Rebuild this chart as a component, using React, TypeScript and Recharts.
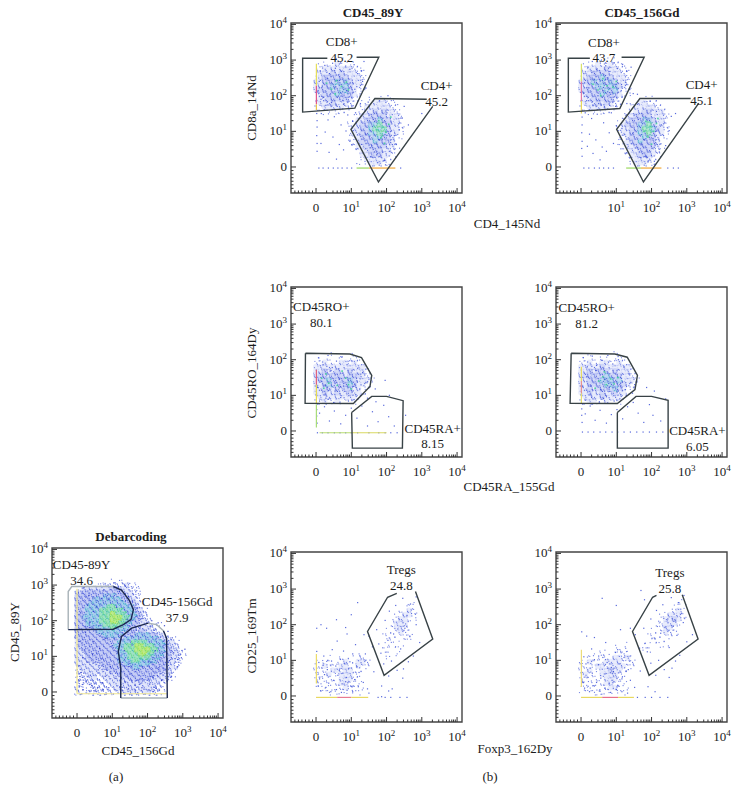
import React from "react";
import { ScatterChart, Scatter, XAxis, YAxis, ReferenceArea, ReferenceDot } from "recharts";

const FONT = "'Liberation Serif', serif";
const INK = "#1c1c1c";
const XDOM = [-71, 414];
const YDOM = [-73, 404];
const MAJOR = [0, 100, 200, 300, 400];
const NEG_MINOR = [-60, -50, -40, -30, -20, -10];
const DEC_MINOR = [30, 48, 60, 70, 78, 85, 90, 95];
const TICKS = [...NEG_MINOR, ...MAJOR, ...[0, 100, 200, 300].flatMap((d) => DEC_MINOR.map((m) => d + m))].sort((a, b) => a - b);

// How each density level of a map cell is stippled
const LEVEL = {
  a: { n: 2, under: null, c1: "#4a5ddb", c2: "#6072e0" },
  b: { n: 4, under: "#e3e7fb", c1: "#3c50d8", c2: "#5569de" },
  c: { n: 6, under: "#c6cef6", c1: "#3346d4", c2: "#4658da" },
  d: { n: 7, under: "#a9cdee", c1: "#3346d4", c2: "#36b0c4" },
  e: { n: 8, under: "#9fe2c4", c1: "#36b8ae", c2: "#58d878" },
  f: { n: 8, under: "#bcea88", c1: "#6cd860", c2: "#a8e040" },
};
const SPECKS = [[-2.4,-1.1],[0.9,-2.6],[2.2,0.7],[-0.8,1.9],[1.6,-0.9],[-2.9,1.6],[0.2,0.1],[2.8,-2.2],[-1.4,-2.8],[1.1,2.7],[-2.1,0.3],[2.6,2.1],[-0.3,-1.6],[0.7,1.2],[-1.7,2.6],[1.9,-1.8]];

// Density maps: rows run downward from gridTop, columns rightward from x=0.
const gridA = [
  "..........a.a...................",
  "......aaa.aaaab.a...............",
  ".abbbbbbbbccbbba.a..............",
  "bbcccccccccccbbba...............",
  "ccccccccdcdcccbbaa..............",
  "cccccddddddddccbba..............",
  "ccccddddddddddccbba.............",
  "cccddddddeedddddcba.............",
  "cccddddeeeeeedddcbba............",
  "cccddddeeefeeedddcba............",
  "ccdddddeeefffeeddcbaa...........",
  "cccddddeeeffeeddccbba...........",
  "cccdddddeeeeeddcccbbaa.a........",
  "cccccdddddeddddccbbbbaa.........",
  "ccccccdddddddccccbccbbaa........",
  "ccccccccddddcccccddddccbba......",
  "bcccccccccccccdddddddddcbbaa....",
  "bcccccccccccddddeeeedddddcbba...",
  "bccccccccccdddeeeffeeedddcbba...",
  "bbccccccccccddeeeffffeeddccbba..",
  "bbbcccccccccdddeeeffeedddccbbaa.",
  "bbbcccccccccdddeeeeeedddcccbba..",
  "bbbbcccbccccddddeedddddcccbbaa..",
  "abbbbbbcccccccdddddddcccccbba...",
  "abbbbbbbccccccccddccccccccbba...",
  "aabbbbbbbbcccccccccccccccbba....",
  "aaabbbabbbbbcccccccccccbbbba....",
  "aaaabbaabbbbbbbccccccbbbbba.....",
  "aaaaaaaaabbbbbbbbbcbbbbbaa......",
  "aa.aaaaaaabbbbbbbbbbbbbaa.......",
  "aa..aa.aaaabbabbbabbbbaaa.......",
  "aaaaaaaaaaaaabbbbbabbaaa........",
];
const gridP1 = [
  "....a.a...............",
  ".aaaabaaaa............",
  "aabbbbbbbaaa..........",
  "abbbcbcbbbaa..........",
  "abccccccbbba..........",
  "bbcccdcdcbba..........",
  "bbccdcddcbba..........",
  "bcccccddcbaa..........",
  "abcccdcccba...........",
  "abbcccccba..a..aa.a...",
  "abbbcbbba..aaabbbaaa..",
  "aabbbbbaa..abbbbbbaa..",
  "..aaaaaa..aabbcbcbba..",
  ".........aabbccccbbba.",
  "........aabbcccdccbba.",
  "........aabccddeccbba.",
  "........abbccdedecbba.",
  "........abbccddedcbba.",
  "........aabcccddccbaa.",
  "........aabcccdcccba..",
  "........aabbcccccbba..",
  ".........aabbcccbba...",
  "..........abbcccbba...",
  "..........aabbbbbaa...",
  "..........aaabbbaa....",
];
const gridP2 = [
  "......a.a.............",
  ".aaabaabaaa...........",
  "aabbbbcbbaaa..........",
  "abbccccbbbaa..........",
  "abcccdccbbba..........",
  "bccdcdcdcbba..........",
  "bbccddcddcba..........",
  "bcccccdcdbaa..........",
  "abcccdcccbaa..........",
  "abbcccccba.....a.a....",
  "abbbcbcba...aabbaaa...",
  "aabbbbbaa...abbbbbaa..",
  "..aaaaaa...aabbccbbba.",
  "..........aabccccbbba.",
  ".........aabcccddcbba.",
  ".........abcccddecbba.",
  ".........abbccdeedcba.",
  ".........abbccddecbba.",
  ".........aabcccdccbaa.",
  ".........aabccdcccba..",
  ".........aabbcccccba..",
  "..........aabbcccba...",
  "..........aabbcccba...",
  "...........aabbbbaa...",
  "...........aabbbaa....",
];
const gridP3 = [
  "...a.....a........",
  "aa.a.aa.aaa.......",
  "aabaaabbaba.......",
  "bbbbbbbbbbbba.....",
  "bbcbbcbbcbbba.....",
  "bccbcccbcccbaa....",
  "bccdccccdcbbba....",
  "bbcdcbccdcbbaa....",
  "bbccbcbccbbaa.....",
  "bbcbbcbbcbba......",
  "abbbbbbbbba.......",
  "aabaabaaaa........",
];
const gridP4 = [
  "..a.....aa........",
  "aa.aa.a.aaa.......",
  "aabaabbaaba.......",
  "bbbbbcbbbbbba.....",
  "bbcbcccbcbbba.....",
  "bcccccdcccbbaa....",
  "bbcccdddcdbbba....",
  "bbccccddcccbaa....",
  "bbcbccccdcbaa.....",
  "bbcbbcbbcbba......",
  "abbbbcbbbba.......",
  "aabbaabaaa........",
];
const gridP5 = [
  ".......................a..",
  ".....................aa...",
  "....................aaba..",
  "...................aabba..",
  "..................aabbaa..",
  "..................abbba...",
  ".................aabbaa...",
  ".................aaabaa...",
  "................aaaaa.a...",
  "..................a.aa....",
  "................aaa.a.....",
  "................aa.a......",
  "..........a......a.a......",
  "...a..aaa.aaa...a.........",
  ".aaa.aabaabba.............",
  "aabaaabbaabaa.............",
  "aaaabbabbaaa..............",
  "aaabaabbbaa...............",
  "a.aaaabbbaa...............",
  "aa.aaabbaaa...............",
  "a.aa.aabaa.a..............",
  ".a.a.aaaa.a...............",
];
const gridP6 = [
  ".......................aa.",
  "......................aa..",
  ".....................aaba.",
  "...................aabbba.",
  "...................abbcba.",
  "..................aabbba..",
  ".................aaabba...",
  ".................aaaba.a..",
  "................aaaaaa....",
  ".................a.aa.....",
  "........a..a...aa.a.a.....",
  ".....a...aaa..a.a.........",
  "...a.aa.aaaa..............",
  ".aa.aaaabbaba.............",
  "aabaaabbbbaaa.............",
  "aaaabbabbbbaa.............",
  "aabaabbcbbaa..............",
  "abaaabbbbaa...............",
  "aa.aaabbbaa...............",
  "a.aaaabbaaa...............",
  "aaaa.aabba.a..............",
  "aa.aaaaaa.a...............",
];

// Individually read events (x, y pairs, in hundredths of an axis decade)
const dotsA = [4,280,18,292,33,270,52,296,70,262,88,300,104,306,120,282,136,298,146,268,158,252,172,236,184,206,196,222,178,178,2,170,8,142,21,118,16,96,6,74,28,84,44,106,60,62,38,47,12,55,26,28,4,34,42,18,58,11,72,26,80,44,94,71,108,38,122,15,136,29,150,50,164,19,178,36,190,8,206,22,218,46,232,68,240,32,252,62,262,88,274,110,286,132,270,152,258,170,248,186,230,194,212,200,296,96,306,120,284,70,268,44,10,222,30,244,46,226,62,186,80,150,100,130,118,92,134,116,150,80,64,122,48,142,24,168,90,260,112,238,142,204,6,14,16,6,34,4,52,3,74,7,90,12,108,6,128,4,146,9,166,5,184,12,204,6,224,10,36,196,56,240,74,284,128,256,156,132,202,84,222,116,244,142];
const dotsP1 = [12,270,25,285,38,262,47,291,55,277,63,296,72,268,84,283,96,274,108,287,118,262,128,270,136,296,132,240,141,222,125,205,118,185,105,172,92,168,78,176,60,170,44,181,28,173,14,190,6,214,9,240,18,227,33,248,41,205,52,222,66,243,71,199,88,214,97,236,110,218,22,196,15,150,34,132,52,141,71,118,90,146,104,128,26,98,48,84,66,63,85,101,37,41,58,22,78,48,96,72,14,66,112,152,126,178,148,182,3,130,3,112,2,88,3,66,3,44,2,150,120,110,132,148,141,92,150,170,158,60,166,128,172,34,180,186,188,78,194,18,201,152,208,44,215,121,222,88,228,63,236,104,244,137,197,6,175,12,156,28,8,-3,20,-3,35,-3,49,-3,62,-3,74,-3,88,-3,101,-3,240,-3,250,170,262,118,204,200,300,150];
const hotP1 = [30,235,44,218,58,242,72,226,86,238,92,216,54,205,178,130,190,112,198,98,184,82,206,120,172,104,194,66,212,140];
const dotsP2 = [8,262,20,280,32,296,46,275,58,300,70,284,82,268,94,292,104,276,118,288,130,268,142,280,126,238,138,218,116,196,112,176,98,170,82,182,66,168,50,178,34,172,16,186,7,208,10,236,22,222,38,246,48,200,62,214,76,250,84,204,100,232,114,214,12,152,30,136,46,148,64,124,86,152,100,116,24,92,42,76,60,56,80,96,34,38,54,20,72,44,92,66,18,58,3,140,3,118,2,96,3,72,2,52,3,30,2,160,116,108,136,150,148,96,160,176,170,62,176,132,184,30,196,184,204,80,208,16,214,156,222,42,228,118,234,88,240,60,250,102,256,142,210,8,190,14,170,26,8,-3,22,-3,38,-3,52,-3,64,-3,78,-3,92,-3,246,-3,262,-3,276,-3,268,150,160,204,130,178,148,206];
const hotP2 = [34,232,48,216,62,248,74,228,90,224,100,240,56,200,184,128,196,114,206,100,190,84,214,122,180,100,200,64,218,136];
const dotsP3 = [8,205,20,186,34,212,46,178,58,196,74,208,88,186,102,196,118,176,132,164,146,138,140,104,126,100,108,88,92,84,70,94,50,80,28,92,10,84,4,122,14,150,26,128,40,168,54,112,66,146,78,126,96,158,110,132,124,118,2,60,2,42,3,22,10,50,24,68,38,28,52,56,70,20,84,44,100,64,116,36,130,70,146,92,160,54,176,26,192,72,206,40,222,14,146,14,170,82,208,100,196,142,168,118,254,44,4,-5,18,-5,34,-5,52,-5,68,-5,84,-5,100,-5,118,-5,150,-5,178,-5,196,-5,212,-5,230,-5];
const hotP3 = [16,148,28,160,36,134,60,128,84,148,92,130,100,118,22,120,74,168];
const dotsP4 = [6,206,18,180,32,210,44,184,60,198,76,212,90,188,106,200,122,180,136,160,152,130,146,106,128,100,110,90,94,84,72,96,52,82,30,94,12,86,5,124,16,152,28,126,42,170,56,116,68,144,80,122,98,160,112,134,126,116,2,62,2,44,3,24,12,48,26,70,40,30,54,58,72,22,86,46,102,60,118,34,132,68,148,80,162,50,178,24,194,74,204,44,226,28,240,90,208,112,186,122,4,-3,20,-3,36,-3,54,-3,70,-3,88,-3,104,-3,122,-3,140,-3,158,-3,176,-3,194,-3,214,-3,232,-3];
const hotP4 = [50,140,62,152,72,130,84,146,94,132,40,120,104,150,66,166];
const dotsP5 = [2,190,14,200,30,190,58,214,84,192,100,228,118,262,60,154,88,174,112,144,136,172,140,118,78,126,46,130,22,112,2,125,2,100,2,78,2,60,8,94,20,86,32,74,44,98,56,84,68,104,80,92,92,76,104,118,116,82,128,104,10,48,24,60,36,36,50,44,62,58,74,34,86,52,98,28,110,46,122,66,134,38,146,20,14,14,28,24,42,12,58,18,72,10,88,16,104,12,120,26,6,28,66,72,96,96,76,64,84,40,150,8,176,-4,196,-4,212,-4,238,-4,258,-4,150,168,160,138,172,186,184,120,196,212,204,156,214,98,226,254,232,188,240,132,248,76,258,226,266,168,276,112,284,200,294,150,246,274,268,258,284,278,208,238,220,174,236,214,252,190,178,146,192,90,164,68,206,56,230,72,246,50,262,96,186,28,206,14,186,-2,216,20];
const dotsP6 = [2,180,16,168,38,164,70,150,104,130,140,190,100,254,60,274,170,296,112,186,50,112,30,132,8,110,2,100,2,84,2,66,2,48,14,90,26,78,38,102,50,88,62,108,74,94,86,80,98,122,110,90,122,108,134,74,20,52,32,64,44,38,56,50,68,62,80,36,92,56,104,30,116,48,128,70,140,44,152,24,10,22,24,12,38,28,52,14,68,22,84,10,100,18,116,12,132,8,6,38,76,78,92,68,88,44,160,-4,182,-4,200,-4,224,-4,246,-4,154,172,166,134,178,190,188,124,198,216,210,160,220,100,232,256,238,192,250,136,258,78,264,230,272,170,280,114,290,206,300,152,256,276,276,262,292,282,214,240,226,176,246,216,262,196,182,148,198,92,168,70,212,58,236,74,250,52,268,98,190,26,210,12,316,172,180,270];

// Axis pile-ups along the zero lines: colour, x1, y1, x2, y2
const pilesP1 = [["#e6df5a",1,228,1,290],["#e0568a",1,176,1,228],["#e8c84a",1,160,1,176],["#9ad860",115,-3,150,-3],["#f0a838",150,-3,225,-3]];
const pilesP2 = [["#d8e26a",1,240,1,290],["#e27aa0",1,185,1,240],["#e8d858",1,150,1,185],["#9ad860",128,-3,170,-3],["#f0a838",170,-3,228,-3]];
const pilesP3 = [["#e0607a",1,130,1,172],["#e8dc50",1,78,1,130],["#a8dc78",1,10,1,75],["#b8dc70",10,-5,100,-5],["#d8d860",100,-5,200,-5]];
const pilesP4 = [["#e8dc60",1,140,1,180],["#e89090",1,105,1,140],["#e8e070",1,78,1,105]];
const pilesP5 = [["#ecdc68",1,35,1,118],["#e8d860",0,-4,60,-4],["#e87a90",60,-4,100,-4],["#e8d860",100,-4,148,-4]];
const pilesP6 = [["#ecdc78",1,25,1,130],["#e8d860",0,-4,60,-4],["#e8708a",60,-4,105,-4],["#e8d860",105,-4,150,-4]];
const pilesA = [["#f2e88a",0,-5,0,290],["#f0e690",0,-5,255,-5]];

// Gates: polylines in axis units
const DARK = "#384246";
const GATE_P1 = [[[32,305],[-38,305],[-38,154],[110,165],[178,308],[115,308]],[[314,190],[167,192],[99,106],[177,-42],[331,170]]];
const GATE_P2 = [[[25,305],[-36,305],[-36,154],[110,164],[179,308],[115,308]],[[311,192],[167,192],[101,106],[177,-42],[334,179]]];
const GATE_P3 = [[[-30,218],[96,216],[129,206],[158,156],[153,125],[106,77],[-31,78],[-30,218]],[[101,52],[158,97],[200,97],[247,85],[245,-48],[103,-48],[101,52]]];
const GATE_P4 = [[[-28,218],[96,216],[131,207],[160,156],[153,116],[103,77],[-31,78],[-28,218]],[[103,52],[156,97],[200,97],[247,86],[247,-48],[103,-48],[103,52]]];
const GATE_P5 = [[[282,293],[331,160],[193,58],[146,181],[203,277],[229,288]]];
const GATE_P6 = [[[287,284],[332,160],[193,58],[146,181],[203,277],[214,282]]];
const GATE_A_DARK = [[[103,296],[126,286],[148,258],[160,231],[153,203],[131,189],[103,176],[-25,175]],[[124,-17],[124,67],[117,114],[126,156],[155,179],[202,193]],[[245,172],[254,151],[256,-17]]];
const GATE_A_LIGHT = [[[-25,175],[-25,282],[-15,296],[103,296]],[[202,193],[226,189],[245,172]],[[256,-17],[124,-17]]];

// Gate labels: text, x, y in axis units
const LABELS_P1 = [["CD8+",73,352],["45.2",73,308],["CD4+",342,229],["45.2",342,184]];
const LABELS_P2 = [["CD8+",65,350],["43.7",65,308],["CD4+",342,232],["45.1",342,188]];
const LABELS_P3 = [["CD45RO+",15,349],["80.1",15,305],["CD45RA+",331,7],["8.15",331,-36]];
const LABELS_P4 = [["CD45RO+",16,347],["81.2",16,302],["CD45RA+",330,3],["6.05",330,-43]];
const LABELS_P5 = [["Tregs",242,354],["24.8",242,309]];
const LABELS_P6 = [["Tregs",252,346],["25.8",252,301]];
const LABELS_A = [["CD45-89Y",13,358],["34.6",13,314],["CD45-156Gd",284,254],["37.9",284,209]];

const FREE_TEXT = [
  ["CD45_89Y", 373, 17, "bold", 0], ["CD45_156Gd", 642, 17, "bold", 0], ["Debarcoding", 131, 541, "bold", 0],
  ["CD4_145Nd", 507, 228, "normal", 0], ["CD45RA_155Gd", 509, 491, "normal", 0], ["Foxp3_162Dy", 515, 753, "normal", 0],
  ["CD45_156Gd", 138, 755, "normal", 0], ["(a)", 116, 781, "normal", 0], ["(b)", 490, 781, "normal", 0],
  ["CD8a_14Nd", 256, 108, "normal", -90], ["CD45RO_164Dy", 256, 373, "normal", -90], ["CD25_169Tm", 256, 636, "normal", -90], ["CD45_89Y", 19, 632, "normal", -90],
];

const pts = (a) => {
  const out = [];
  for (let i = 0; i < a.length; i += 2) out.push({ x: a[i], y: a[i + 1] });
  return out;
};
const cells = (rows, top, step) => {
  const out = [];
  rows.forEach((row, r) => row.split("").forEach((ch, c) => {
    if (ch !== ".") out.push({ x: c * step, y: top - r * step, k: ch, start: (c * 5 + r * 11) % SPECKS.length });
  }));
  return out;
};

const PANELS = [
  { left: 52, top: 548, grid: gridA, gridTop: 310, step: 10, dots: dotsA, hot: [], piles: pilesA, dark: GATE_A_DARK, light: GATE_A_LIGHT, labels: LABELS_A, zero: true, ink: "#2433c8" },
  { left: 291, top: 23, grid: gridP1, gridTop: 300, step: 12, dots: dotsP1, hot: hotP1, piles: pilesP1, dark: GATE_P1, light: [], labels: LABELS_P1, zero: true, ink: "#3a4dd6" },
  { left: 556, top: 23, grid: gridP2, gridTop: 300, step: 12, dots: dotsP2, hot: hotP2, piles: pilesP2, dark: GATE_P2, light: [], labels: LABELS_P2, zero: false, ink: "#3a4dd6" },
  { left: 291, top: 287, grid: gridP3, gridTop: 216, step: 12, dots: dotsP3, hot: hotP3, piles: pilesP3, dark: GATE_P3, light: [], labels: LABELS_P3, zero: true, ink: "#3a4dd6" },
  { left: 556, top: 287, grid: gridP4, gridTop: 216, step: 12, dots: dotsP4, hot: hotP4, piles: pilesP4, dark: GATE_P4, light: [], labels: LABELS_P4, zero: true, ink: "#3a4dd6" },
  { left: 291, top: 552, grid: gridP5, gridTop: 264, step: 12, dots: dotsP5, hot: [], piles: pilesP5, dark: GATE_P5, light: [], labels: LABELS_P5, zero: true, ink: "#3a4dd6" },
  { left: 556, top: 552, grid: gridP6, gridTop: 264, step: 12, dots: dotsP6, hot: [], piles: pilesP6, dark: GATE_P6, light: [], labels: LABELS_P6, zero: true, ink: "#3a4dd6" },
];

const tickLabel = (v, x, y, anchor) =>
  v === 0 ? (
    <text x={x} y={y} textAnchor={anchor} fontSize={13} fontFamily={FONT} fill={INK}>0</text>
  ) : (
    <text x={x} y={y} textAnchor={anchor} fontSize={13} fontFamily={FONT} fill={INK}>
      10<tspan dy={-5} fontSize={9}>{v / 100}</tspan>
    </text>
  );

const XTick = ({ x, y, payload, zero }) => {
  const v = payload.value;
  const major = MAJOR.includes(v);
  return (
    <g>
      <line x1={x} x2={x} y1={y} y2={y - (major ? 5 : 2.5)} stroke="#333" strokeWidth={1} />
      {major && (v !== 0 || zero) ? tickLabel(v, x, y + 19, "middle") : null}
    </g>
  );
};
const YTick = ({ x, y, payload }) => {
  const v = payload.value;
  const major = MAJOR.includes(v);
  return (
    <g>
      <line x1={x} x2={x + (major ? 5 : 2.5)} y1={y} y2={y} stroke="#333" strokeWidth={1} />
      {major ? tickLabel(v, x - 4, y + 4, "end") : null}
    </g>
  );
};

// A density cell: a pale underlay plus a stipple of specks for its level.
const StippleCell = ({ cx, cy, payload, r, dense }) => {
  const lv = LEVEL[payload.k];
  const under = lv.under;
  const count = dense ? lv.n + 2 : lv.n;
  const marks = [];
  for (let i = 0; i < count; i++) {
    const o = SPECKS[(payload.start + i * 3) % SPECKS.length];
    marks.push(<rect key={i} x={cx + o[0]} y={cy + o[1]} width={1.1} height={1.1} fill={i % 2 ? lv.c2 : lv.c1} fillOpacity={0.8} />);
  }
  return (
    <g>
      {under ? <circle cx={cx} cy={cy} r={r} fill={under} fillOpacity={dense ? 0.95 : 0.75} /> : null}
      {marks}
    </g>
  );
};

const Panel = ({ p }) => {
  const wash = cells(p.grid, p.gridTop, p.step);
  const dense = p.step === 10;
  return (
    <div style={{ position: "absolute", left: p.left - 45, top: p.top - 10 }}>
      <ScatterChart width={226} height={210} margin={{ top: 10, right: 10, left: 0, bottom: 0 }}>
        <XAxis type="number" dataKey="x" domain={XDOM} ticks={TICKS} interval={0} allowDataOverflow height={30} tickLine={false} axisLine={false} tickSize={0} tickMargin={0} tick={(t) => <XTick {...t} zero={p.zero} />} />
        <YAxis type="number" dataKey="y" domain={YDOM} ticks={TICKS} interval={0} allowDataOverflow width={45} tickLine={false} axisLine={false} tickSize={0} tickMargin={0} tick={(t) => <YTick {...t} />} />
        {["a", "b", "c", "d", "e", "f"].map((k) => (
          <Scatter key={k} data={wash.filter((c) => c.k === k)} isAnimationActive={false}
            shape={(s) => <StippleCell {...s} r={dense ? 2.6 : 3} dense={dense} />} />
        ))}
        <Scatter data={pts(p.dots)} isAnimationActive={false}
          shape={(s) => <rect x={s.cx - 0.6} y={s.cy - 0.6} width={1.2} height={1.2} fill={p.ink} fillOpacity={0.85} />} />
        <Scatter data={pts(p.hot)} isAnimationActive={false}
          shape={(s) => <rect x={s.cx - 0.8} y={s.cy - 0.8} width={1.6} height={1.6} fill="#4fd0a0" />} />
        {p.piles.map((l, i) => (
          <Scatter key={"pile" + i} data={[{ x: l[1], y: l[2] }, { x: l[3], y: l[4] }]} isAnimationActive={false}
            line={{ stroke: l[0], strokeWidth: 1.2 }} shape={() => <g />} />
        ))}
        {p.light.map((g, i) => (
          <Scatter key={"light" + i} data={g.map((q) => ({ x: q[0], y: q[1] }))} isAnimationActive={false}
            line={{ stroke: "#a8b2b8", strokeWidth: 1.4 }} shape={() => <g />} />
        ))}
        {p.dark.map((g, i) => (
          <Scatter key={"gate" + i} data={g.map((q) => ({ x: q[0], y: q[1] }))} isAnimationActive={false}
            line={{ stroke: p.light.length ? "#1c2850" : DARK, strokeWidth: 1.4 }} shape={() => <g />} />
        ))}
        <ReferenceArea x1={XDOM[0]} x2={XDOM[1]} y1={YDOM[0]} y2={YDOM[1]} fill="none" fillOpacity={0} stroke="#444" strokeWidth={1.4} ifOverflow="visible" />
        {p.labels.map((l, i) => (
          <ReferenceDot key={"lab" + i} x={l[1]} y={l[2]} r={0} fill="none" stroke="none" ifOverflow="visible"
            label={{ value: l[0], position: "center", fill: INK, fontSize: 13, fontFamily: FONT }} />
        ))}
      </ScatterChart>
    </div>
  );
};

export default function App() {
  return (
    <div style={{ position: "absolute", left: 0, top: 0, width: 738, height: 803, overflow: "hidden", background: "#fff" }}>
      {PANELS.map((p, i) => <Panel key={i} p={p} />)}
      <svg width={738} height={803} style={{ position: "absolute", left: 0, top: 0, pointerEvents: "none" }}>
        {FREE_TEXT.map((t, i) => (
          <text key={i} x={t[1]} y={t[2]} textAnchor="middle" fontSize={13} fontWeight={t[3]} fontFamily={FONT} fill={INK}
            transform={t[4] ? `rotate(${t[4]} ${t[1]} ${t[2]})` : undefined}>{t[0]}</text>
        ))}
      </svg>
    </div>
  );
}
